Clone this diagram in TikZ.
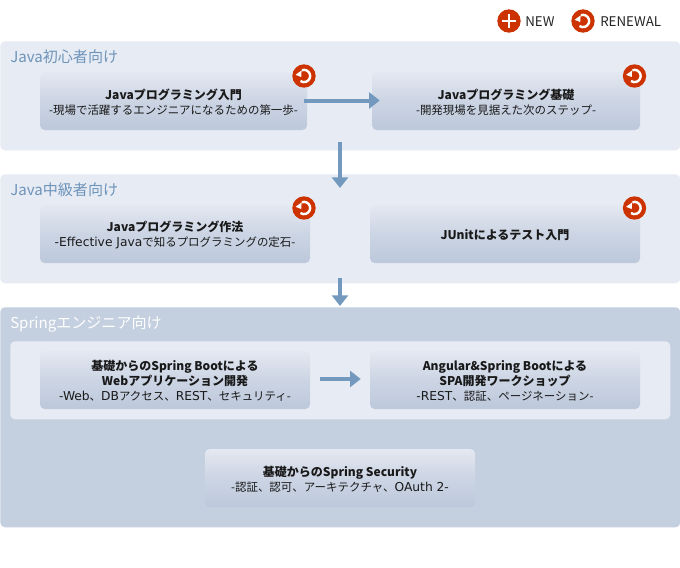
\documentclass[tikz,border=0pt]{standalone}
\usepackage{fontspec}
\setmainfont{Noto Sans CJK JP}
\newfontfamily\latfont{DejaVu Sans}
\usetikzlibrary{arrows.meta,positioning}
\definecolor{panellight}{HTML}{E7EBF3}
\definecolor{paneldark}{HTML}{C4CFDF}
\definecolor{boxtop}{HTML}{E4E8F1}
\definecolor{boxbot}{HTML}{BCC8DB}
\definecolor{flow}{HTML}{7399BF}
\definecolor{iconred}{HTML}{CC3300}
\definecolor{headblue}{HTML}{6D94BA}
\newcommand{\ttl}[1]{{\fontsize{9pt}{11.25pt}\selectfont\textbf{#1}}}
\newcommand{\lat}[1]{{\latfont\fontsize{9.2pt}{11.25pt}\selectfont #1}}
\tikzset{
  x=0.75pt,y=-0.75pt,
  panelbox/.style={fill=#1,rounded corners=3.5pt,draw=none,minimum height=0pt,inner sep=0pt},
  coursebox/.style={rounded corners=3.5pt,top color=boxtop,bottom color=boxbot,middle color=boxbot!60!boxtop,
    draw=none,inner sep=0pt},
  coursetext/.style={inner sep=0pt,align=center,font=\fontsize{8.6pt}{11.25pt}\selectfont,text=black!90},
  heading/.style={anchor=west,inner sep=0pt,font=\fontsize{11.3pt}{13pt}\selectfont},
  legendtext/.style={anchor=west,inner sep=0pt,font=\fontsize{10pt}{12pt}\selectfont,text=black!85},
  flowarrow/.style={draw=flow,line width=3pt,-{Triangle[length=8pt,width=12pt]}},
  redcircle/.style={circle,fill=iconred,draw=none,minimum size=17.5pt,inner sep=0pt},
}
\newcommand{\boxat}[6]{% name x0 y0 x1 y1 text
  \node[coursebox,minimum width=#4*0.75pt-#2*0.75pt,minimum height=#5*0.75pt-#3*0.75pt] (#1) at ({(#2+#4)/2},{(#3+#5)/2}) {};
  \node[coursetext] (#1t) at ([yshift=-0.9pt]#1.center) {#6};}
\newcommand{\renewicon}[3]{%
  \node[redcircle] (#1) at (#2,#3) {};
  \draw[white,line width=1.8pt] (#1.center) ++(110:4.6pt) arc[start angle=110,end angle=-125,radius=4.6pt];
  \fill[white] (#1.center) ++(-6.3pt,0.9pt) -- ++(4.5pt,3.3pt) -- ++(-0.3pt,-5.0pt) -- cycle;
}
\begin{document}
\begin{tikzpicture}
\useasboundingbox (0,0) rectangle (680,567);
\fill[white] (0,0) rectangle (680,567);
% panels
\node[panelbox=panellight,anchor=north west,minimum width=510pt,minimum height=81.75pt] (p1) at (0,41) {};
\node[panelbox=panellight,anchor=north west,minimum width=510pt,minimum height=81.75pt] (p2) at (0,174) {};
\node[panelbox=paneldark,anchor=north west,minimum width=510pt,minimum height=165pt] (p3) at (0,307) {};
\node[panelbox=panellight,anchor=north west,minimum width=495pt,minimum height=58.5pt] (p3inner) at (10,341) {};
% headings
\node[heading,text=headblue] (h1) at (10,56.7) {Java初心者向け};
\node[heading,text=headblue] (h2) at (10,189.7) {Java中級者向け};
\node[heading,text=white] (h3) at (10,324.2) {Springエンジニア向け};
% courses
\boxat{a}{40}{72}{307}{130}{\ttl{Javaプログラミング入門}\\-現場で活躍するエンジニアになるための第一歩-}
\boxat{b}{372}{72}{640}{130}{\ttl{Javaプログラミング基礎}\\-開発現場を見据えた次のステップ-}
\boxat{c}{40}{205}{310}{263}{\ttl{Javaプログラミング作法}\\\lat{-Effective Java}で知るプログラミングの定石-}
\boxat{d}{370}{205}{640}{263}{\ttl{JUnitによるテスト入門}}
\boxat{e}{40}{351}{310}{409}{\ttl{基礎からのSpring Bootによる}\\\ttl{Webアプリケーション開発}\\\lat{-Web}、\lat{DB}アクセス、\lat{REST}、セキュリティ-}
\boxat{f}{370}{351}{640}{409}{\ttl{Angular\&Spring Bootによる}\\\ttl{SPA開発ワークショップ}\\\lat{-REST}、認証、ページネーション-}
\boxat{g}{205}{449}{475}{507}{\ttl{基礎からのSpring Security}\\-認証、認可、アーキテクチャ、\lat{OAuth 2-}}
% connectors
\draw[flowarrow] ([xshift=-2.25pt]a.east|-0,100.5) -- ([xshift=6pt]b.west|-0,100.5);
\draw[flowarrow] ([xshift=7.5pt]e.east|-0,379) -- ([xshift=-6.75pt]f.west|-0,379);
\draw[flowarrow] ([yshift=6.75pt]p1.south-|340,0) -- ([yshift=-10.5pt]p2.north-|340,0);
\draw[flowarrow] ([yshift=4.5pt]p2.south-|340,0) -- ([yshift=.75pt]p3.north-|340,0);
% icons
\renewicon{ia}{304}{76}
\renewicon{ib}{634.5}{76}
\renewicon{ic}{304}{208}
\renewicon{id}{634.5}{208}
\node[redcircle] (lnew) at (509,21) {};
\fill[white] (lnew.center) ++(-5.6pt,-1.1pt) rectangle ++(11.2pt,2.2pt);
\fill[white] (lnew.center) ++(-1.1pt,-5.6pt) rectangle ++(2.2pt,11.2pt);
\renewicon{lren}{583}{21}
\node[legendtext] (tnew) at (525,22) {NEW};
\node[legendtext] (tren) at (600,22) {RENEWAL};
\end{tikzpicture}
\end{document}
